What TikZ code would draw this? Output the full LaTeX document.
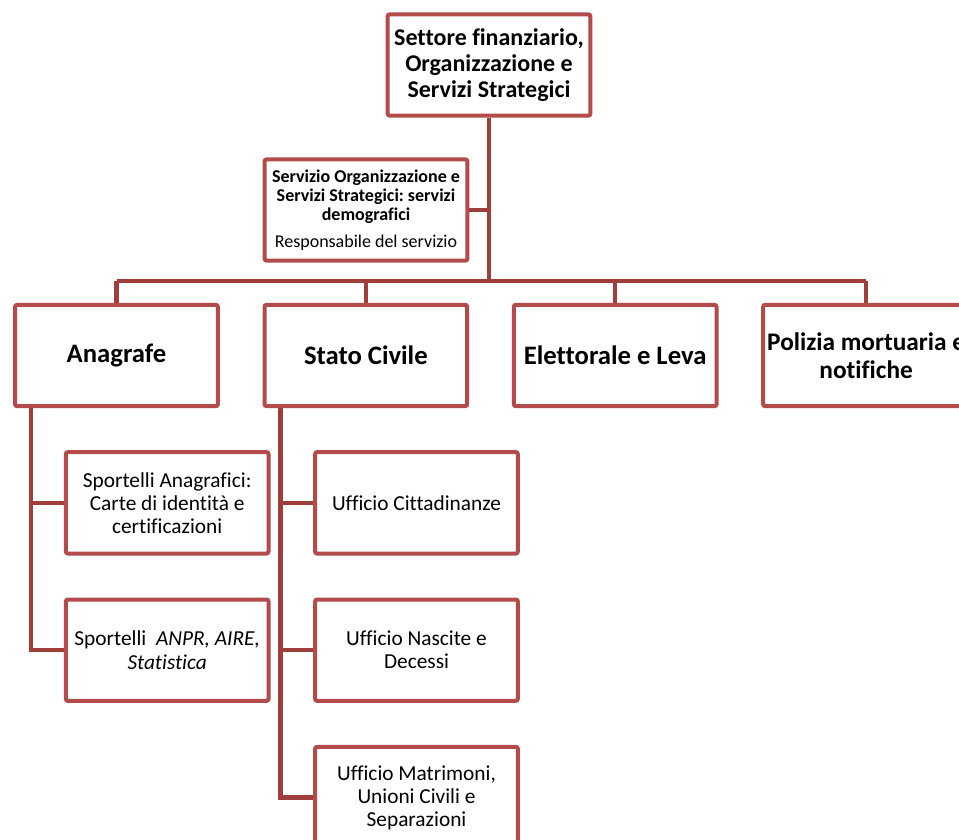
\documentclass[tikz,border=0pt]{standalone}
\usepackage{fontspec}
\setmainfont{Carlito}[Ligatures=NoCommon]
\frenchspacing
\usetikzlibrary{positioning,calc}
\definecolor{boxred}{RGB}{178,75,73}
\definecolor{linkred}{RGB}{160,62,60}

\begin{document}
\begin{tikzpicture}[
    x=0.75pt, y=-0.75pt,
    node distance=31.5pt and 32pt,
    unit/.style={draw=boxred, line width=3pt, rounded corners=1.5pt, fill=white,
        minimum width=152pt, minimum height=76pt, align=center, inner sep=3pt},
    head/.style={unit, font=\fontsize{18}{19.5}\selectfont\bfseries},
    area/.style={unit, font=\fontsize{20}{21}\selectfont\bfseries},
    office/.style={unit, font=\fontsize{16}{17.3}\selectfont},
    link/.style={draw=linkred, line width=3.4pt},
]
\clip (0,0) rectangle (959,839);
\node[head] (top) at (489,65) {Settore finanziario,\\Organizzazione e\\Servizi Strategici};
\node[unit, font=\fontsize{13.5}{14.3}\selectfont\bfseries] (serv) at (366,210)
  {Servizio Organizzazione e\\Servizi Strategici: servizi\\demografici\\[6pt]{\mdseries Responsabile del servizio}};
\node[area] (ana) at (116.5,355.5) {Anagrafe};
\node[area, right=of ana]   (stato) {Stato Civile};
\node[area, right=of stato] (ele)   {Elettorale e Leva};
\node[area, right=of ele, font=\fontsize{19}{21}\selectfont\bfseries] (pol) {Polizia mortuaria e\\notifiche};
% uffici di anagrafe
\node[office, below=of ana, xshift=38pt] (sp1) {Sportelli Anagrafici:\\Carte di identità e\\certificazioni};
\node[office, below=of sp1] (sp2) {Sportelli\ \ \textit{ANPR, AIRE,}\\\textit{Statistica}};
% uffici di stato civile
\node[office, below=of stato, xshift=38pt] (uf1) {Ufficio Cittadinanze};
\node[office, below=of uf1] (uf2) {Ufficio Nascite e\\Decessi};
\node[office, below=of uf2] (uf3) {Ufficio Matrimoni,\\Unioni Civili e\\Separazioni};
% collegamenti
\coordinate (bus) at ($(top.south |- stato.north)+(0,16.5pt)$);
\draw[link] (top.south) -- (bus);
\draw[link] (serv.east) -- (serv.east -| top.south);
\draw[link] (ana.north |- bus) -- (pol.north |- bus);
\foreach \n in {ana,stato,ele,pol}
  \draw[link] (\n.north) -- (\n.north |- bus);
\draw[link] ([xshift=13.5pt]ana.south west) coordinate (anaT) |- (sp2.west);
\draw[link] (sp1.west) -- (sp1.west -| anaT);
\draw[link] ([xshift=13.5pt]stato.south west) coordinate (statoT) |- (uf3.west);
\draw[link] (uf1.west) -- (uf1.west -| statoT);
\draw[link] (uf2.west) -- (uf2.west -| statoT);
\end{tikzpicture}
\end{document}
